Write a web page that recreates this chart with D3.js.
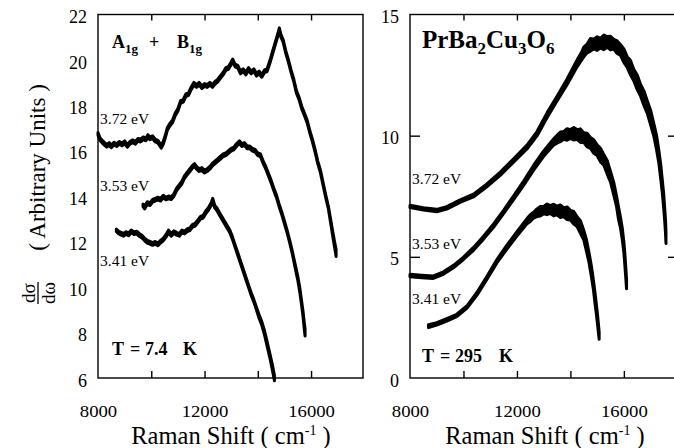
<!DOCTYPE html>
<html>
<head>
<meta charset="utf-8">
<script src="https://cdn.jsdelivr.net/npm/d3@7"></script>
<style>
  html, body { margin: 0; padding: 0; background: #fff; }
  svg { display: block; }
  text { font-family: "Liberation Serif", "Times New Roman", serif; fill: #000; }
</style>
</head>
<body>
<svg id="chart" width="674" height="448" font-family="Liberation Serif"></svg>
<script>
// ---- Raman spectra: [shift (cm-1), intensity, optional half-width of noise band] ----
// T = 7.4 K, A1g + B1g
const low372 = [
  [8000, 16.75], [8080, 16.5], [8160, 16.4], [8250, 16.3], [8330, 16.22], [8420, 16.3],
  [8500, 16.2], [8600, 16.32], [8700, 16.25], [8800, 16.35], [8900, 16.28], [9000, 16.38],
  [9100, 16.22], [9200, 16.35], [9300, 16.42], [9400, 16.35], [9500, 16.48], [9600, 16.45],
  [9700, 16.55], [9800, 16.5], [9875, 16.65], [9950, 16.55], [10050, 16.6], [10150, 16.45],
  [10250, 16.4], [10375, 16.18], [10450, 16.35], [10520, 16.6], [10600, 16.95], [10700, 17.15],
  [10800, 17.3], [10900, 17.6], [11000, 17.8], [11100, 18.15], [11200, 18.2], [11300, 18.45],
  [11400, 18.5], [11500, 18.75], [11600, 18.95], [11700, 18.85], [11800, 18.95], [11900, 18.8],
  [12000, 18.9], [12100, 18.85], [12200, 18.95], [12300, 18.85], [12400, 19.0], [12500, 19.1],
  [12600, 19.25], [12700, 19.4], [12800, 19.6], [12900, 19.65], [13000, 19.85], [13060, 19.98],
  [13150, 19.75], [13250, 19.7], [13350, 19.45], [13450, 19.55], [13550, 19.4], [13650, 19.6],
  [13750, 19.45], [13850, 19.55], [13950, 19.35], [14050, 19.45], [14150, 19.3], [14250, 19.5],
  [14350, 19.55], [14450, 19.9], [14550, 20.3], [14650, 20.7], [14750, 21.1], [14810, 21.35],
  [14870, 21.05], [14950, 20.85], [15050, 20.35], [15150, 19.95], [15250, 19.5], [15350, 19.1],
  [15450, 18.6], [15550, 18.3], [15650, 17.9], [15750, 17.6], [15850, 17.3], [15950, 16.85],
  [16050, 16.45], [16150, 16.0], [16250, 15.5], [16350, 15.1], [16450, 14.55], [16550, 14.0],
  [16650, 13.5], [16750, 12.8, 0.09], [16820, 12.3, 0.1], [16880, 11.9, 0.12], [16940, 11.5, 0.15]
];
const low353 = [
  [9690, 13.6], [9750, 13.5], [9850, 13.7], [9950, 13.65], [10050, 13.8], [10150, 13.85],
  [10250, 13.9], [10350, 13.85], [10450, 13.98], [10550, 13.9], [10650, 13.95], [10750, 13.92],
  [10850, 14.05], [10950, 14.3], [11050, 14.45], [11150, 14.6], [11250, 14.85], [11350, 15.0],
  [11450, 15.15], [11550, 15.3], [11625, 15.38], [11700, 15.25], [11800, 15.15], [11900, 15.2],
  [12000, 15.08], [12100, 15.15], [12200, 15.25], [12300, 15.4], [12400, 15.5], [12500, 15.6],
  [12600, 15.7], [12700, 15.8], [12800, 15.85], [12900, 15.95], [13000, 16.05], [13100, 16.1],
  [13200, 16.25], [13310, 16.38], [13400, 16.25], [13500, 16.3], [13600, 16.15], [13700, 16.15],
  [13800, 16.05], [13900, 16.0], [14000, 15.85], [14100, 15.8], [14200, 15.5], [14300, 15.25],
  [14400, 14.95], [14500, 14.65], [14600, 14.3], [14700, 14.0], [14800, 13.6], [14900, 13.25],
  [15000, 12.85], [15100, 12.45], [15200, 12.0], [15300, 11.5], [15400, 10.95, 0.08],
  [15500, 10.4, 0.09], [15580, 9.85, 0.1], [15650, 9.25, 0.1], [15700, 8.8, 0.12],
  [15740, 8.35, 0.14], [15775, 8.0, 0.15]
];
const low341 = [
  [8690, 12.5], [8780, 12.4], [8870, 12.35], [8960, 12.3], [9050, 12.38], [9150, 12.32],
  [9250, 12.45], [9350, 12.38], [9450, 12.4], [9550, 12.3], [9650, 12.22], [9750, 12.1],
  [9850, 12.0], [9950, 11.95], [10050, 11.9], [10150, 11.95], [10250, 11.88], [10350, 12.0],
  [10450, 12.1], [10550, 12.25], [10650, 12.45], [10750, 12.3], [10850, 12.42], [10950, 12.35],
  [11050, 12.3], [11150, 12.45], [11250, 12.4], [11350, 12.5], [11450, 12.55], [11550, 12.7],
  [11650, 12.75], [11750, 12.9], [11850, 13.05], [11950, 13.1], [12050, 13.3], [12150, 13.45],
  [12250, 13.65], [12310, 13.85], [12380, 13.55], [12450, 13.45], [12550, 13.25], [12650, 13.05],
  [12750, 12.85], [12850, 12.65], [12950, 12.45], [13050, 12.15], [13150, 11.8], [13250, 11.45],
  [13350, 11.1], [13450, 10.75], [13550, 10.4], [13650, 10.05], [13750, 9.7], [13850, 9.4],
  [13950, 9.05], [14050, 8.7, 0.08], [14150, 8.4, 0.08], [14250, 8.0, 0.09], [14350, 7.5, 0.1],
  [14450, 7.0, 0.1], [14550, 6.45, 0.12], [14625, 6.0, 0.12]
];

// T = 295 K, PrBa2Cu3O6
const room372 = [
  [8000, 7.08, 0.05], [8500, 6.98, 0.05], [9000, 6.91, 0.05], [9375, 7.02, 0.05],
  [9875, 7.3, 0.05], [10375, 7.53, 0.06], [10875, 7.95, 0.06], [11375, 8.43, 0.07],
  [11875, 8.98, 0.07], [12375, 9.53, 0.08], [12750, 10.08, 0.09], [13125, 10.84, 0.1],
  [13500, 11.53, 0.1], [13875, 12.22, 0.12], [14250, 12.98, 0.14], [14400, 13.25, 0.16],
  [14500, 13.45, 0.2], [14625, 13.6, 0.18], [14750, 13.75, 0.26], [14875, 13.78, 0.2],
  [15000, 13.8, 0.28], [15125, 13.82, 0.2], [15250, 13.85, 0.3], [15375, 13.87, 0.22],
  [15500, 13.82, 0.28], [15625, 13.77, 0.2], [15750, 13.65, 0.26], [15875, 13.53, 0.22],
  [16000, 13.3, 0.28], [16125, 13.04, 0.22], [16250, 12.8, 0.3], [16375, 12.49, 0.24],
  [16500, 12.2, 0.3], [16625, 11.87, 0.24], [16750, 11.55, 0.3], [16875, 11.18, 0.26],
  [17000, 10.75, 0.3], [17125, 10.22, 0.26], [17225, 9.7, 0.3], [17310, 9.12, 0.26],
  [17380, 8.5, 0.3], [17440, 7.88, 0.26], [17490, 7.3, 0.3], [17525, 6.78, 0.26],
  [17555, 6.3, 0.28], [17575, 5.8, 0.25]
];
const room353 = [
  [8000, 4.23, 0.05], [8440, 4.19, 0.05], [8875, 4.16, 0.05], [9250, 4.33, 0.05],
  [9625, 4.6, 0.05], [10000, 4.94, 0.05], [10375, 5.33, 0.06], [10750, 5.79, 0.06],
  [11125, 6.29, 0.07], [11500, 6.85, 0.07], [11875, 7.44, 0.08], [12250, 8.04, 0.09],
  [12625, 8.68, 0.1], [13000, 9.26, 0.11], [13375, 9.74, 0.13], [13500, 9.85, 0.16],
  [13625, 9.95, 0.2], [13750, 10.01, 0.16], [13875, 10.05, 0.24], [14000, 10.07, 0.18],
  [14125, 10.08, 0.26], [14250, 10.05, 0.2], [14375, 10.0, 0.28], [14500, 9.92, 0.2],
  [14625, 9.82, 0.28], [14750, 9.7, 0.22], [14875, 9.55, 0.28], [15000, 9.4, 0.22],
  [15125, 9.2, 0.28], [15250, 9.0, 0.22], [15375, 8.7, 0.28], [15500, 8.3, 0.22],
  [15625, 7.8, 0.26], [15725, 7.3, 0.22], [15800, 6.8, 0.26], [15875, 6.4, 0.22],
  [15940, 5.95, 0.24], [16000, 5.4, 0.22], [16040, 4.85, 0.24], [16075, 4.3, 0.22],
  [16100, 3.88, 0.2]
];
const room341 = [
  [8690, 2.14, 0.06], [9000, 2.23, 0.05], [9375, 2.4, 0.05], [9750, 2.58, 0.05],
  [10125, 2.92, 0.05], [10500, 3.47, 0.06], [10875, 4.13, 0.06], [11250, 4.82, 0.07],
  [11625, 5.4, 0.08], [12000, 5.95, 0.09], [12375, 6.47, 0.11], [12500, 6.6, 0.14],
  [12625, 6.72, 0.12], [12750, 6.82, 0.16], [12875, 6.88, 0.2], [13000, 6.93, 0.15],
  [13125, 6.96, 0.22], [13250, 6.95, 0.16], [13375, 6.93, 0.24], [13500, 6.91, 0.18],
  [13625, 6.88, 0.26], [13750, 6.84, 0.18], [13875, 6.8, 0.26], [14000, 6.72, 0.2],
  [14125, 6.61, 0.26], [14250, 6.45, 0.2], [14375, 6.23, 0.26], [14500, 5.9, 0.2],
  [14600, 5.47, 0.24], [14700, 4.95, 0.2], [14790, 4.37, 0.22], [14860, 3.85, 0.2],
  [14925, 3.26, 0.22], [14980, 2.75, 0.2], [15025, 2.3, 0.2], [15075, 1.75, 0.15]
];

const energies = ["3.72 eV", "3.53 eV", "3.41 eV"];
const xTickMarks = [10000, 12000, 14000, 16000];
const xTickLabels = [8000, 12000, 16000];
const yTicksLow = [6, 8, 10, 12, 14, 16, 18, 20, 22];
const yTicksRoom = [0, 5, 10, 15];
const yInnerTicksRoom = [5, 10];

const svg = d3.select("#chart");

const frameTop = 14.5, frameBottom = 378;

const panels = [
  {
    left: 98, right: 363, yDomain: [6, 22], yTicks: yTicksLow, innerY: [], rightTicks: [],
    noise: 0.06,
    series: [low372, low353, low341],
    labelPos: [[100, 124], [100, 191], [100, 266]],
    tempText: ["T", "=", "7.4", "K"], tempX: [112, 130, 145, 183], tempY: 355,
    xTitleCx: 231
  },
  {
    left: 410, right: 676, yDomain: [0, 15], yTicks: yTicksRoom, innerY: yInnerTicksRoom, rightTicks: yInnerTicksRoom,
    noise: 0.06,
    series: [room372, room353, room341],
    labelPos: [[412, 184], [412, 249], [412, 304]],
    tempText: ["T", "=", "295", "K"], tempX: [422, 440, 455, 499], tempY: 362,
    xTitleCx: 545
  }
];

panels.forEach(p => {
  const x = d3.scaleLinear().domain([8000, 17950]).range([p.left, p.right]);
  const y = d3.scaleLinear().domain(p.yDomain).range([frameBottom, frameTop]);
  const g = svg.append("g");

  // spectra drawn as noise bands
  const half = d => (d.length > 2 ? d[2] : p.noise);
  const band = d3.area()
    .x(d => x(d[0]))
    .y0(d => y(d[1] - half(d)))
    .y1(d => y(d[1] + half(d)));
  p.series.forEach(s => {
    g.append("path")
      .attr("d", band(s))
      .attr("fill", "#000")
      .attr("stroke", "#000")
      .attr("stroke-width", 3)
      .attr("stroke-linejoin", "round");
  });

  // frame
  g.append("rect")
    .attr("x", p.left).attr("y", frameTop)
    .attr("width", p.right - p.left).attr("height", frameBottom - frameTop)
    .attr("fill", "none").attr("stroke", "#000").attr("stroke-width", 1.4);

  // inner tick marks
  const tickStyle = sel => {
    sel.select(".domain").remove();
    sel.selectAll("line").attr("stroke", "#000").attr("stroke-width", 1.4);
  };
  g.append("g").attr("transform", `translate(0,${frameBottom})`)
    .call(d3.axisBottom(x).tickValues(xTickMarks).tickSize(-7).tickFormat(""))
    .call(tickStyle);
  g.append("g").attr("transform", `translate(0,${frameTop})`)
    .call(d3.axisTop(x).tickValues(xTickMarks).tickSize(-6).tickFormat(""))
    .call(tickStyle);
  if (p.innerY.length) {
    g.append("g").attr("transform", `translate(${p.left},0)`)
      .call(d3.axisLeft(y).tickValues(p.innerY).tickSize(-10).tickFormat(""))
      .call(tickStyle);
    g.append("g").attr("transform", `translate(${p.right},0)`)
      .call(d3.axisRight(y).tickValues(p.rightTicks).tickSize(-8).tickFormat(""))
      .call(tickStyle);
  }

  // x tick labels
  const xl = g.append("g").attr("transform", "translate(0,417)")
    .call(d3.axisBottom(x).tickValues(xTickLabels).tickSize(0).tickFormat(d3.format("d")));
  xl.select(".domain").remove();
  xl.attr("font-family", "Liberation Serif");
  xl.selectAll("text").attr("y", 0).attr("dy", 0)
    .attr("font-family", "Liberation Serif").attr("font-size", 17.5)
    .attr("transform", "scale(1.07,1)");

  // y tick labels
  const yl = g.append("g").attr("transform", `translate(${p.left - 11},0)`)
    .call(d3.axisLeft(y).tickValues(p.yTicks).tickSize(0).tickFormat(d3.format("d")));
  yl.select(".domain").remove();
  yl.attr("font-family", "Liberation Serif");
  yl.selectAll("text").attr("x", 0).attr("dy", "0.45em")
    .attr("font-family", "Liberation Serif").attr("font-size", 18);

  // excitation energy labels
  energies.forEach((e, i) => {
    g.append("text")
      .attr("x", p.labelPos[i][0]).attr("y", p.labelPos[i][1])
      .attr("font-size", 15.5)
      .text(e);
  });

  // temperature label
  p.tempText.forEach((t, i) => {
    g.append("text")
      .attr("x", p.tempX[i]).attr("y", p.tempY)
      .attr("font-size", 18).attr("font-weight", "bold")
      .text(t);
  });

  // x axis title
  const xt = g.append("text")
    .attr("x", p.xTitleCx).attr("y", 444)
    .attr("text-anchor", "middle")
    .attr("font-size", 24.5);
  xt.append("tspan").text("Raman Shift ( cm");
  xt.append("tspan").attr("font-size", 14).attr("dy", -9).text("-1");
  xt.append("tspan").attr("dy", 9).text(" )");
});

// symmetry label (left panel)
const sym = svg.append("text").attr("y", 48).attr("font-size", 18).attr("font-weight", "bold");
sym.append("tspan").attr("x", 112).text("A");
sym.append("tspan").attr("font-size", 13).attr("dy", 5).text("1g");
sym.append("tspan").attr("x", 149).attr("dy", -5).text("+");
sym.append("tspan").attr("x", 177).text("B");
sym.append("tspan").attr("font-size", 13).attr("dy", 5).text("1g");

// compound label (right panel)
const comp = svg.append("text").attr("x", 422).attr("y", 48).attr("font-size", 25).attr("font-weight", "bold");
comp.append("tspan").text("PrBa");
comp.append("tspan").attr("font-size", 17).attr("dy", 6).text("2");
comp.append("tspan").attr("dy", -6).text("Cu");
comp.append("tspan").attr("font-size", 17).attr("dy", 6).text("3");
comp.append("tspan").attr("dy", -6).text("O");
comp.append("tspan").attr("font-size", 17).attr("dy", 6).text("6");

// y axis title: dσ/dω ( Arbitrary Units )
svg.append("text")
  .attr("transform", "translate(45,167.5) rotate(-90)")
  .attr("text-anchor", "middle").attr("font-size", 23)
  .text("( Arbitrary Units )");
svg.append("text")
  .attr("transform", "translate(35,293) rotate(-90)")
  .attr("text-anchor", "middle").attr("font-size", 19)
  .text("dσ");
svg.append("text")
  .attr("transform", "translate(55,293) rotate(-90)")
  .attr("text-anchor", "middle").attr("font-size", 19)
  .text("dω");
svg.append("line")
  .attr("x1", 38).attr("x2", 38).attr("y1", 282).attr("y2", 304)
  .attr("stroke", "#000").attr("stroke-width", 1.3);
</script>
</body>
</html>
